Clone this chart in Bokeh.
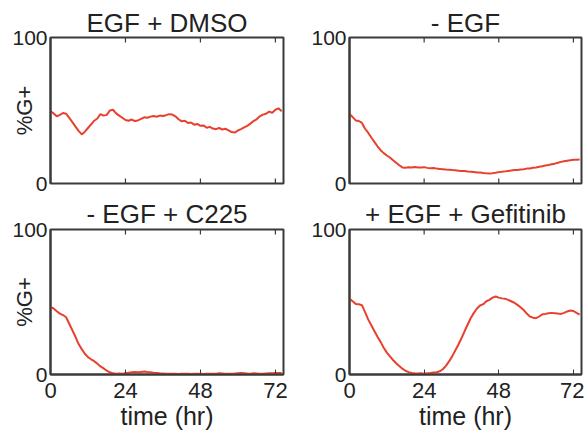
from bokeh.plotting import figure
from bokeh.layouts import column, row
from bokeh.models import FixedTicker, Range1d
from bokeh.embed import file_html
from bokeh.resources import INLINE

titles = ["EGF + DMSO", "- EGF", "- EGF + C225", "+ EGF + Gefitinib"]
x_ticks = [0, 24, 48, 72]
y_ticks = [0, 100]
x_label = "time (hr)"
y_label = "%G+"

hours = [0, 1, 2, 3, 4, 5, 6, 7, 8, 9, 10, 11, 12, 13, 14, 15, 16, 17, 18, 19,
         20, 21, 22, 23, 24, 25, 26, 27, 28, 29, 30, 31, 32, 33, 34, 35, 36, 37, 38, 39,
         40, 41, 42, 43, 44, 45, 46, 47, 48, 49, 50, 51, 52, 53, 54, 55, 56, 57, 58, 59,
         60, 61, 62, 63, 64, 65, 66, 67, 68, 69, 70, 71, 72, 73, 74]

egf_dmso = [49.5, 48, 46, 47, 48.3, 47.8, 45, 42, 39, 36, 33.6, 35.5, 38, 40.5, 43, 44.5, 47.5, 46.5, 47, 50,
            50.5, 48, 46.5, 45, 43.5, 43, 43.8, 42.8, 43.2, 44.2, 45.3, 45, 45.8, 46.2, 45.7, 46.5, 46.2, 46.8, 47.5, 47.2,
            46, 44, 42.6, 43, 41.5, 41.8, 40.3, 40.8, 39.5, 39.8, 38.2, 38.8, 37.6, 37.2, 38, 37, 37.5, 36.4, 35.2, 34.9,
            36.3, 37.2, 38.4, 39.5, 41, 42.8, 44, 46, 47.2, 47.8, 49.2, 48.5, 50.5, 51.5, 49.5]

minus_egf = [47.7, 45.5, 43.2, 42.8, 41.5, 37.5, 34.8, 31.5, 28.5, 25.5, 22.8, 20.8, 19.2, 17.8, 16, 14.2, 12.5, 11, 10.8, 11.2,
             11, 11.3, 11, 10.9, 11.2, 10.7, 10.5, 10.6, 10.2, 10, 9.8, 9.6, 9.5, 9.2, 9, 8.8, 8.6, 8.5, 8.2, 8,
             7.8, 7.6, 7.5, 7.2, 7, 6.9, 7.1, 7.4, 7.8, 8, 8.3, 8.6, 8.9, 9.2, 9.3, 9.6, 9.8, 10.2, 10.3, 10.8,
             11, 11.4, 11.8, 12.3, 12.7, 13.2, 13.6, 14.2, 14.8, 15.2, 15.6, 15.9, 16.2, 16.3, 16.5]

minus_egf_c225 = [46.5, 45.5, 43.6, 42, 41, 39.5, 35, 30.5, 26, 21, 17.5, 14.3, 12, 10.5, 9.2, 7.5, 5.6, 4.2, 2.6, 1.5,
                  0.8, 0.6, 0.7, 0.6, 0.9, 1.2, 1.5, 1.8, 1.6, 1.8, 2, 1.7, 1.5, 1.2, 1, 0.8, 0.7, 0.6, 0.5, 0.6,
                  0.5, 0.4, 0.5, 0.6, 0.5, 0.4, 0.5, 0.6, 0.5, 0.4, 0.5, 0.6, 0.5, 0.6, 0.8, 0.7, 0.6, 0.5, 0.6, 0.7,
                  0.9, 1.1, 0.9, 0.7, 0.6, 0.8, 0.7, 0.6, 0.5, 0.7, 0.8, 0.9, 1, 1.1, 1]

plus_egf_gefitinib = [52.2, 50.5, 48.7, 48.5, 47.8, 43, 38, 34, 30, 26, 22.5, 18.5, 15.1, 12.5, 10, 7.8, 5.8, 4, 2.6, 1.6,
                      1, 0.8, 0.7, 0.8, 0.6, 0.9, 1, 1.3, 1.6, 2.2, 3.6, 6, 9, 12.5, 16.5, 20.5, 25, 29.8, 34.5, 39,
                      42.5, 45.5, 47.6, 48.5, 50.5, 51.5, 53, 53.8, 53, 52.5, 52.3, 51.5, 50.5, 49.5, 48, 46.4, 44.5, 42, 40, 39.2,
                      38.8, 40, 41.5, 41.8, 42.3, 42.5, 42.3, 42, 41.8, 42.5, 43.5, 44.1, 43.8, 42.5, 41.3]

series = [egf_dmso, minus_egf, minus_egf_c225, plus_egf_gefitinib]

FONT = "Liberation Sans"
TXT = "#222222"
AX = "#3a3a3a"
RED = "#e8402e"
X_MAX = 74.6


def make_panel(i, width, height, left, right, top, bottom, show_x, show_y, title_standoff):
    p = figure(width=width, height=height, output_backend="svg", toolbar_location=None,
               x_range=Range1d(0, X_MAX), y_range=Range1d(0, 100),
               min_border_left=left, min_border_right=right,
               min_border_top=top, min_border_bottom=bottom,
               title=titles[i])
    p.title.align = "center"
    p.title.vertical_align = "bottom"
    p.title.text_font = FONT
    p.title.text_font_size = "26px"
    p.title.text_font_style = "normal"
    p.title.text_color = TXT
    p.title.standoff = title_standoff
    p.grid.visible = False
    p.outline_line_color = AX
    p.outline_line_width = 2

    p.line(hours, series[i], line_color=RED, line_width=2)

    # inside tick marks along the top edge (and bottom edge where no x axis is drawn)
    p.segment(x0=x_ticks, y0=[100] * len(x_ticks), x1=x_ticks, y1=[96.5] * len(x_ticks),
              line_color=AX, line_width=1.2)

    xa = p.xaxis[0]
    if show_x:
        xa.ticker = FixedTicker(ticks=x_ticks)
        xa.major_tick_in = 5
        xa.major_tick_out = 0
        xa.minor_tick_line_color = None
        xa.axis_line_color = AX
        xa.axis_line_width = 2
        xa.major_tick_line_color = AX
        xa.major_label_text_font = FONT
        xa.major_label_text_color = TXT
        xa.major_label_text_font_size = "22px"
        xa.major_label_text_line_height = 0.8
        xa.major_label_standoff = 8
        xa.axis_label = x_label
        xa.axis_label_text_font = FONT
        xa.axis_label_text_font_size = "25px"
        xa.axis_label_text_line_height = 0.8
        xa.axis_label_text_font_style = "normal"
        xa.axis_label_text_color = TXT
        xa.axis_label_standoff = 1
    else:
        xa.visible = False
        p.segment(x0=x_ticks, y0=[0] * len(x_ticks), x1=x_ticks, y1=[3.5] * len(x_ticks),
                  line_color=AX, line_width=1.2)

    ya = p.yaxis[0]
    ya.ticker = FixedTicker(ticks=y_ticks)
    ya.major_tick_in = 0
    ya.major_tick_out = 0
    ya.minor_tick_line_color = None
    ya.axis_line_color = AX
    ya.axis_line_width = 2
    ya.major_label_text_font = FONT
    ya.major_label_text_font_size = "21px"
    ya.major_label_text_color = TXT
    ya.major_label_standoff = 3
    if show_y:
        ya.axis_label = y_label
        ya.axis_label_text_font = FONT
        ya.axis_label_text_font_size = "22px"
        ya.axis_label_text_font_style = "normal"
        ya.axis_label_text_color = TXT
        ya.axis_label_standoff = -28
    return p


p1 = make_panel(0, 300, 196, 50, 17, 37, 13, False, True, 0)
p2 = make_panel(1, 284, 196, 49, 3, 37, 13, False, False, 0)
p3 = make_panel(2, 300, 236, 50, 17, 32, 58, True, True, 1)
p4 = make_panel(3, 284, 236, 49, 3, 32, 58, True, False, 1)

layout = column(row(p1, p2), row(p3, p4))

open("out.html", "w").write(file_html(layout, INLINE))
